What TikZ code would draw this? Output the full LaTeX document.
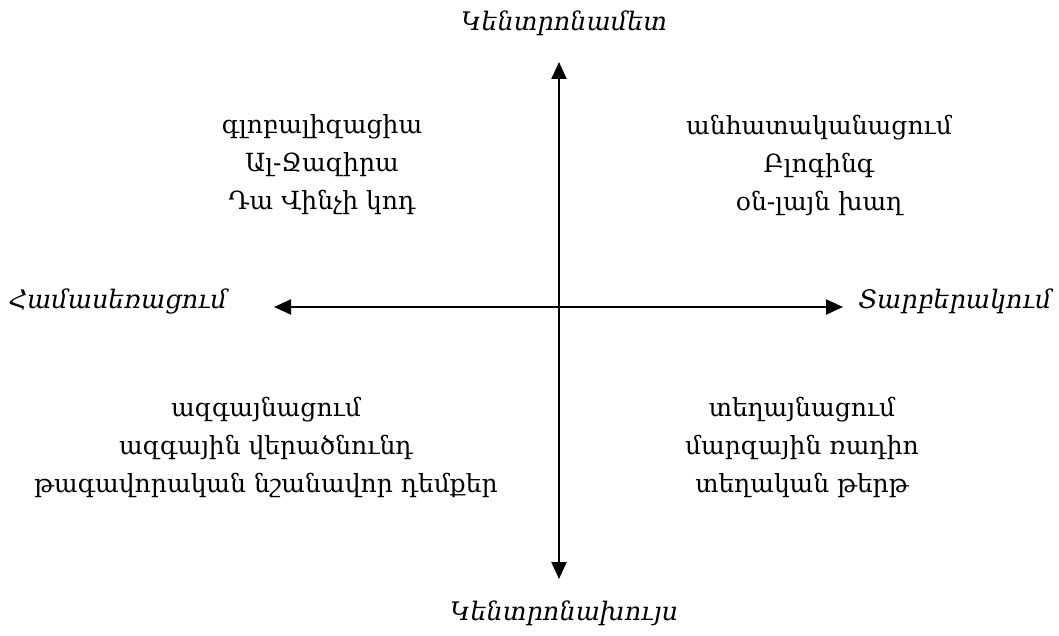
\documentclass[tikz,border=0pt]{standalone}
\usepackage{fontspec}
\setmainfont{DejaVu Serif}
\usetikzlibrary{arrows.meta,positioning}

\begin{document}
\begin{tikzpicture}[
      x=1pt, y=-1pt,
      font=\fontsize{25}{38}\selectfont,
      axis/.style={{Triangle[length=17pt,width=15pt]}-{Triangle[length=17pt,width=15pt]}, line width=2pt},
      pole/.style={font=\fontsize{25.5}{38}\selectfont\itshape},
      group/.style={align=center}
    ]
    \useasboundingbox (0,0) rectangle (1059,636);
    \coordinate (north) at (559,62);
    \coordinate (south) at (559,579);
    \coordinate (west) at (274,307);
    \coordinate (east) at (843,307);
    \draw[axis] (west) -- (east);
    \draw[axis] (south) -- (north);
    \node[pole] (centripetal) at (564,23) {Կենտրոնամետ};
    \node[pole] (centrifugal) at (564,613) {Կենտրոնախույս};
    \node[pole] (homog) at (118,301) {Համասեռացում};
    \node[pole] (diff) at (955,301) {Տարբերակում};
    \node[group] (global) at (322,165) {գլոբալիզացիա\\Ալ-Ջազիրա\\Դա Վինչի կոդ};
    \node[group] (individ) at (819,165) {անհատականացում\\Բլոգինգ\\օն-լայն խաղ};
    \node[group] (nation) at (266,447) {ազգայնացում\\ազգային վերածնունդ\\թագավորական նշանավոր դեմքեր};
    \node[group] (local) at (802,447) {տեղայնացում\\մարզային ռադիո\\տեղական թերթ};
  \end{tikzpicture}
\end{document}
